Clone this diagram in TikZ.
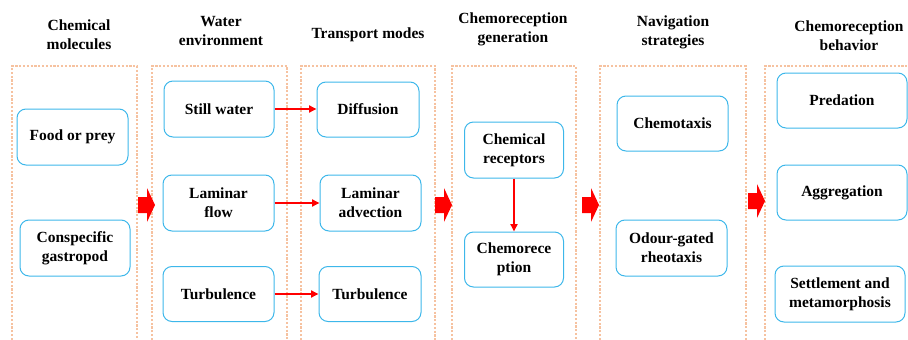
\documentclass[tikz,border=0pt]{standalone}
\usepackage{fontspec}
\setmainfont{Liberation Serif}
\newfontfamily\tnrfont{Liberation Serif}
\usetikzlibrary{arrows.meta}
\definecolor{boxblue}{HTML}{3DB7EA}
\definecolor{dotor}{HTML}{F6C2A0}
\tikzset{
  box/.style={draw=boxblue, line width=1pt, rounded corners=9pt, align=center, inner sep=0pt,
    font=\tnrfont\bfseries\fontsize{15.5}{19}\selectfont},
  title/.style={align=center, inner sep=0pt, font=\tnrfont\bfseries\fontsize{15.5}{19}\selectfont},
  cont/.style={draw=dotor, line width=2.2pt, dash pattern=on 2.2pt off 1.6pt},
  thin/.style={draw=red, line width=1.8pt, -{Triangle[length=7.5pt,width=7pt]}},
  pics/fatarrow/.style={code={
    \fill[red] (0,-8) -- (9,-8) -- (9,-17) -- (17,0) -- (9,17) -- (9,8) -- (0,8) -- cycle;}}
}
\begin{document}
\begin{tikzpicture}[x=1pt,y=-1pt]
\useasboundingbox (0,0) rectangle (908,340);
% containers
\draw[cont] (12,340) |- (137,66) -- (137,340);
\draw[cont] (152,340) |- (287,66) -- (287,340);
\draw[cont] (301,340) |- (435,66) -- (435,340);
\draw[cont] (452,340) |- (576,66) -- (576,340);
\draw[cont] (600,340) |- (746,66) -- (746,340);
\draw[cont] (765,340) |- (912,66);
% titles
\node[title] (t1) at (79,35) {Chemical\\molecules};
\node[title] (t2) at (221,31.5) {Water\\environment};
\node[title] (t3) at (368,35) {Transport modes};
\node[title] (t4) at (513,29.5) {Chemoreception\\generation};
\node[title] (t5) at (673,32.5) {Navigation\\strategies};
\node[title] (t6) at (849,35.5) {Chemoreception\\behavior};
% boxes
\node[box, minimum width=111, minimum height=56] (food) at (72.5,137) {Food or prey};
\node[box, minimum width=110, minimum height=56] (consp) at (75,248) {Conspecific\\gastropod};
\node[box, minimum width=110, minimum height=56] (still) at (219,109) {Still water};
\node[box, minimum width=111, minimum height=56] (lamflow) at (218.5,203) {Laminar\\flow};
\node[box, minimum width=111, minimum height=55] (turb1) at (218.5,294) {Turbulence};
\node[box, minimum width=102, minimum height=55] (diff) at (368,109.5) {Diffusion};
\node[box, minimum width=101, minimum height=56] (lamadv) at (370.5,203) {Laminar\\advection};
\node[box, minimum width=102, minimum height=55] (turb2) at (370,294) {Turbulence};
\node[box, minimum width=99, minimum height=56] (chemrec) at (514,150) {Chemical\\receptors};
\node[box, minimum width=99, minimum height=55] (chemo) at (514,259.5) {Chemorece\\ption};
\node[box, minimum width=111, minimum height=55] (taxis) at (672.5,123.5) {Chemotaxis};
\node[box, minimum width=111, minimum height=56] (odour) at (671.5,248) {Odour-gated\\rheotaxis};
\node[box, minimum width=130, minimum height=55] (pred) at (842,100.5) {Predation};
\node[box, minimum width=130, minimum height=55] (aggr) at (842,192.5) {Aggregation};
\node[box, minimum width=130, minimum height=56] (settle) at (840,294) {Settlement and\\metamorphosis};
% thin arrows
\draw[thin] (still.east) -- (still.east -| diff.west);
\draw[thin] (lamflow.east) -- (lamflow.east -| lamadv.west);
\draw[thin] (turb1.east) -- (turb1.east -| turb2.west);
\draw[thin] (chemrec.south) -- (chemo.north);
% fat arrows
\pic at (138,205) {fatarrow};
\pic at (435,205) {fatarrow};
\pic at (582,205) {fatarrow};
\pic at (748,201) {fatarrow};
\end{tikzpicture}
\end{document}
